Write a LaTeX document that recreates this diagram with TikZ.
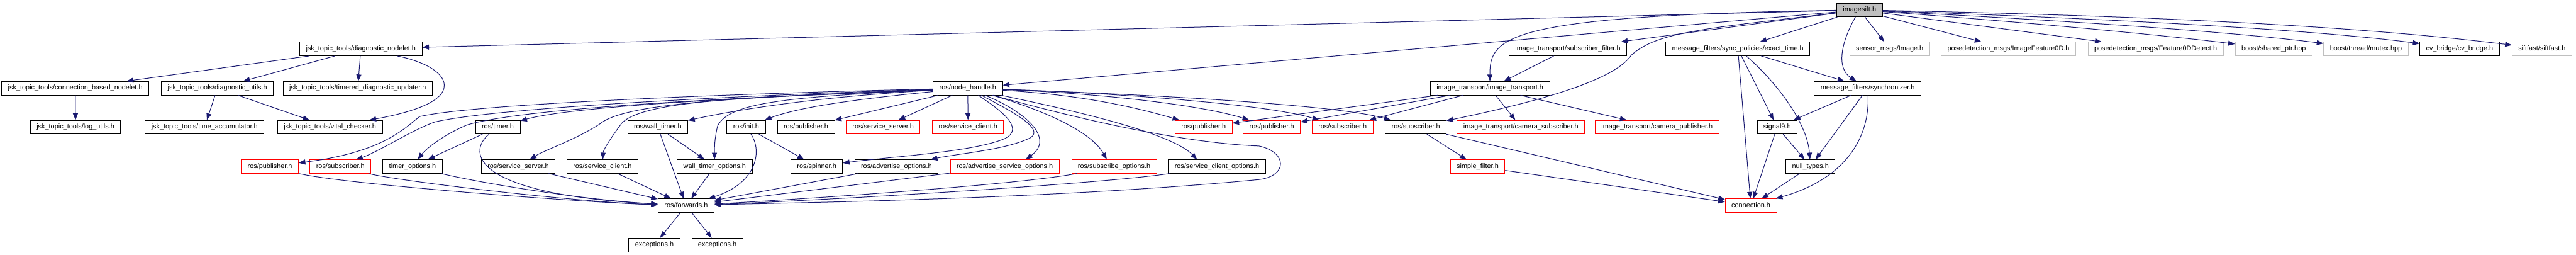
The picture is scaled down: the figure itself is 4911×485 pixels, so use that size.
\documentclass[tikz,border=0pt]{standalone}
\usepackage{fontspec}
\setmainfont{Liberation Sans}
\usetikzlibrary{arrows.meta,calc}
\definecolor{edgec}{RGB}{25,25,112}
\definecolor{grayb}{RGB}{191,191,191}
\definecolor{redb}{RGB}{255,0,0}
\begin{document}
\begin{tikzpicture}[x=0.75pt,y=-0.75pt,
 bx/.style={draw=black, rectangle, line width=0.75pt, inner xsep=9pt, inner ysep=0pt,
   minimum height=19.5pt, text height=7.1pt, text depth=2pt,
   font=\fontsize{9.8}{12}\selectfont, fill=white},
 rx/.style={bx, draw=redb},
 gx/.style={bx, draw=grayb},
 root/.style={bx, fill=grayb},
 ed/.style={draw=edgec, line width=0.9pt, -{Triangle[length=9.5pt,width=7.2pt]}}]
\useasboundingbox (0,0) rectangle (4911,485);
% row 0
\node[root] (imagesift) at (3545,19) {imagesift.h};
% row 1
\node[bx] (dnode) at (688,93) {jsk\_topic\_tools/diagnostic\_nodelet.h};
\node[bx] (subfilt) at (2989,93) {image\_transport/subscriber\_filter.h};
\node[bx] (exact) at (3313,93) {message\_filters/sync\_policies/exact\_time.h};
\node[gx] (sensimg) at (3602.5,93) {sensor\_msgs/Image.h};
\node[gx] (imgfeat) at (3829,93) {posedetection\_msgs/ImageFeature0D.h};
\node[gx] (featdet) at (4109.5,93) {posedetection\_msgs/Feature0DDetect.h};
\node[gx] (shptr) at (4334.5,93) {boost/shared\_ptr.hpp};
\node[gx] (mutex) at (4510.5,93) {boost/thread/mutex.hpp};
\node[bx] (cvb) at (4689,93) {cv\_bridge/cv\_bridge.h};
\node[gx] (sift) at (4846,93) {siftfast/siftfast.h};
% row 2
\node[bx] (cbn) at (143.5,168) {jsk\_topic\_tools/connection\_based\_nodelet.h};
\node[bx] (dutils) at (414.5,168) {jsk\_topic\_tools/diagnostic\_utils.h};
\node[bx] (tdu) at (682,168) {jsk\_topic\_tools/timered\_diagnostic\_updater.h};
\node[bx] (nh) at (1845,168) {ros/node\_handle.h};
\node[bx] (it) at (2840.5,168) {image\_transport/image\_transport.h};
\node[bx] (sync) at (3560.5,168) {message\_filters/synchronizer.h};
% row 3
\node[bx] (logu) at (144,242) {jsk\_topic\_tools/log\_utils.h};
\node[bx] (tacc) at (390,242) {jsk\_topic\_tools/time\_accumulator.h};
\node[bx] (vital) at (629,242) {jsk\_topic\_tools/vital\_checker.h};
\node[bx] (timer) at (949,242) {ros/timer.h};
\node[bx] (wtimer) at (1254,242) {ros/wall\_timer.h};
\node[bx] (init) at (1422.5,242) {ros/init.h};
\node[bx] (pubA) at (1536.5,242) {ros/publisher.h};
\node[rx] (ssrvR) at (1683.5,242) {ros/service\_server.h};
\node[rx] (sclR) at (1845.5,242) {ros/service\_client.h};
\node[rx] (pubB) at (2294.5,242) {ros/publisher.h};
\node[rx] (pubC) at (2424.5,242) {ros/publisher.h};
\node[rx] (subA) at (2559.5,242) {ros/subscriber.h};
\node[bx] (subB) at (2699,242) {ros/subscriber.h};
\node[rx] (camsub) at (2899.5,242) {image\_transport/camera\_subscriber.h};
\node[rx] (campub) at (3159,242) {image\_transport/camera\_publisher.h};
\node[bx] (sig9) at (3388,242) {signal9.h};
% row 4
\node[rx] (pubR) at (514.5,317) {ros/publisher.h};
\node[rx] (subR) at (649,317) {ros/subscriber.h};
\node[bx] (topt) at (786.5,317) {timer\_options.h};
\node[bx] (ssrv) at (988,317) {ros/service\_server.h};
\node[bx] (scl) at (1148.5,317) {ros/service\_client.h};
\node[bx] (wtopt) at (1362.5,317) {wall\_timer\_options.h};
\node[bx] (spin) at (1557,317) {ros/spinner.h};
\node[bx] (advo) at (1709,317) {ros/advertise\_options.h};
\node[rx] (advso) at (1915.5,317) {ros/advertise\_service\_options.h};
\node[rx] (subo) at (2124,317) {ros/subscribe\_options.h};
\node[bx] (sclo) at (2320,317) {ros/service\_client\_options.h};
\node[rx] (sfilt) at (2817,317) {simple\_filter.h};
\node[bx] (nullt) at (3451.5,317) {null\_types.h};
% row 5
\node[bx] (fwd) at (1308,391.5) {ros/forwards.h};
\node[rx] (conn) at (3338,391.5) {connection.h};
% row 6
\node[bx] (exA) at (1247.5,466.5) {exceptions.h};
\node[bx] (exB) at (1367.5,466.5) {exceptions.h};

% ---- edges from imagesift
\draw[ed] (imagesift) -- (dnode);
\draw[ed] (imagesift) -- (nh);
\draw[ed] (imagesift) .. controls (2870,30) and (2840,70) .. (it);
\draw[ed] (imagesift) -- (subfilt);
\draw[ed] (imagesift) .. controls (3250,55) and (3160,60) .. (3110,105) .. controls (3080,150) and (2950,190) .. (subB);
\draw[ed] (imagesift) -- (exact);
\draw[ed] (imagesift) .. controls (3510,80) and (3500,130) .. (sync);
\draw[ed] (imagesift) -- (sensimg);
\draw[ed] (imagesift) -- (imgfeat);
\draw[ed] (imagesift) -- (featdet);
\draw[ed] (imagesift) .. controls (3900,45) and (4150,70) .. (shptr);
\draw[ed] (imagesift) .. controls (3950,40) and (4250,60) .. (mutex);
\draw[ed] (imagesift) .. controls (4000,35) and (4400,55) .. (cvb);
\draw[ed] (imagesift) .. controls (4100,30) and (4500,50) .. (sift);
% ---- jsk
\draw[ed] (dnode) -- (cbn);
\draw[ed] (dnode) -- (dutils);
\draw[ed] (dnode) -- (tdu);
\draw[ed] (dnode) .. controls (800,115) and (847,135) .. (847,163) .. controls (847,195) and (780,215) .. (vital);
\draw[ed] (cbn) -- (logu);
\draw[ed] (dutils) -- (tacc);
\draw[ed] (dutils) -- (vital);
% ---- node_handle leftwards
\draw[ed] (nh) .. controls (1400,178) and (900,198) .. (800,222) .. controls (770,245) and (730,290) .. (pubR);
\draw[ed] (nh) .. controls (1400,182) and (950,205) .. (830,232) .. controls (790,245) and (720,290) .. ($(subR.north)+(30,0)$);
\draw[ed] (nh) .. controls (1400,186) and (1000,205) .. (890,238) .. controls (850,255) and (815,280) .. ($(topt.north)+(10,0)$);
\draw[ed] (nh) .. controls (1500,182) and (1100,200) .. (timer);
\draw[ed] (nh) .. controls (1500,183) and (1200,190) .. (1145,235) .. controls (1100,265) and (1040,285) .. (ssrv);
\draw[ed] (nh) .. controls (1500,185) and (1230,185) .. (1185,235) .. controls (1165,262) and (1150,285) .. (scl);
\draw[ed] (nh) .. controls (1550,185) and (1400,210) .. (wtimer);
\draw[ed] (nh) .. controls (1500,185) and (1390,195) .. (1368,240) .. controls (1362,265) and (1362,285) .. (wtopt);
\draw[ed] (nh) .. controls (1620,190) and (1520,205) .. (init);
\draw[ed] (nh) -- (pubA);
\draw[ed] (nh) -- (ssrvR);
\draw[ed] (nh) -- (sclR);
% ---- node_handle rightwards
\draw[ed] (nh) .. controls (1900,205) and (1960,245) .. (1913,265) .. controls (1850,290) and (1700,298) .. (spin);
\draw[ed] (nh) .. controls (1935,215) and (1990,245) .. (1965,262) .. controls (1920,285) and (1830,292) .. (advo);
\draw[ed] (nh) .. controls (1960,215) and (2010,265) .. ($(advso.north)+(40,0)$);
\draw[ed] (nh) .. controls (1990,210) and (2080,250) .. ($(subo.north)+(-14,0)$);
\draw[ed] (nh) .. controls (2020,205) and (2230,250) .. ($(sclo.north)+(-38,0)$);
\draw[ed] (nh) .. controls (2050,225) and (2250,272) .. (2400,278) .. controls (2455,290) and (2455,335) .. (2400,342) .. controls (2000,380) and (1500,386) .. (fwd);
\draw[ed] (nh) .. controls (2050,180) and (2150,200) .. (pubB);
\draw[ed] (nh) .. controls (2100,178) and (2290,200) .. (pubC);
\draw[ed] (nh) .. controls (2150,178) and (2420,200) .. (subA);
\draw[ed] (nh) .. controls (2200,180) and (2550,200) .. (subB);
% ---- ros row 3/4
\draw[ed] (timer) -- (topt);
\draw[ed] (timer) .. controls (890,290) and (900,370) .. (fwd);
\draw[ed] (wtimer) -- (fwd);
\draw[ed] (wtimer) -- (wtopt);
\draw[ed] (init) .. controls (1455,290) and (1440,350) .. (fwd);
\draw[ed] (init) -- (spin);
\draw[ed] (wtopt) -- (fwd);
\draw[ed] (pubR) .. controls (650,350) and (1100,385) .. (fwd);
\draw[ed] (subR) .. controls (760,345) and (1100,385) .. (fwd);
\draw[ed] (topt) .. controls (900,345) and (1100,380) .. (fwd);
\draw[ed] (ssrv) -- (fwd);
\draw[ed] (scl) -- (fwd);
\draw[ed] (advo) -- (fwd);
\draw[ed] (advso) -- (fwd);
\draw[ed] (subo) .. controls (1950,350) and (1600,375) .. (fwd);
\draw[ed] (sclo) .. controls (2100,350) and (1600,380) .. (fwd);
\draw[ed] (fwd) -- (exA);
\draw[ed] (fwd) -- (exB);
% ---- image_transport
\draw[ed] (subfilt) -- (it);
\draw[ed] (it) -- (pubB);
\draw[ed] (it) -- (pubC);
\draw[ed] (it) -- (subA);
\draw[ed] (it) -- (camsub);
\draw[ed] (it) -- (campub);
\draw[ed] (subB) -- (sfilt);
\draw[ed] (subB) -- (conn);
\draw[ed] (sfilt) -- (conn);
% ---- message_filters
\draw[ed] (exact) -- (conn);
\draw[ed] (exact) -- (sig9);
\draw[ed] (exact) .. controls (3380,150) and (3445,230) .. (nullt);
\draw[ed] (exact) -- (sync);
\draw[ed] (sync) -- (sig9);
\draw[ed] (sync) -- (nullt);
\draw[ed] (sync) .. controls (3565,260) and (3520,340) .. (conn);
\draw[ed] (sig9) -- (conn);
\draw[ed] (sig9) -- (nullt);
\draw[ed] (nullt) -- (conn);
\end{tikzpicture}
\end{document}
